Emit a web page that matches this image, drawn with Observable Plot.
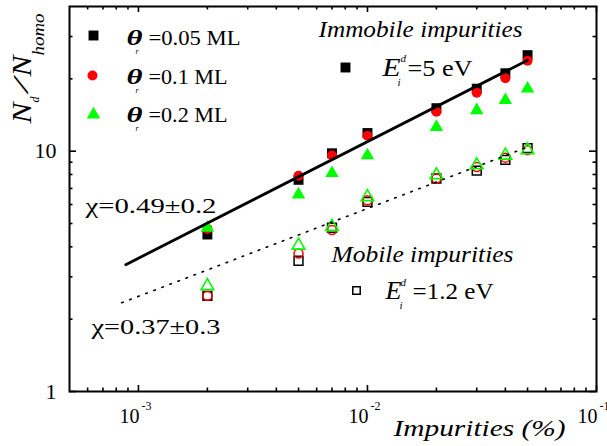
<!DOCTYPE html>
<html>
<head>
<meta charset="utf-8">
<script src="https://cdn.jsdelivr.net/npm/d3@7"></script>
<script src="https://cdn.jsdelivr.net/npm/@observablehq/plot@0.6"></script>
<style>
  html, body { margin: 0; padding: 0; background: #fff; }
  svg { display: block; }
</style>
</head>
<body>
<div id="chart"></div>
<script>
// ---------------- data ----------------
const impurities = [0.002, 0.005, 0.007, 0.01, 0.02, 0.03, 0.04, 0.05];
// immobile impurities (E = 5 eV), filled symbols
const immobile005 = [4.5, 7.6, 9.8, 11.9, 15.1, 18.2, 21.1, 25.1];
const immobile01  = [4.75, 7.9, 9.6, 11.6, 14.6, 17.5, 20.1, 23.8];
const immobile02  = [4.8, 6.6, 8.1, 9.6, 12.6, 14.8, 16.3, 18.2];
// mobile impurities (E = 1.2 eV), open symbols
const mobile005 = [2.5, 3.5, 4.8, 6.15, 7.7, 8.3, 9.2, 10.3];
const mobile01  = [2.5, 3.75, 4.7, 6.25, 7.7, 8.6, 9.4, 10.1];
const mobile02  = [2.75, 4.05, 4.85, 6.45, 7.95, 8.75, 9.6, 10.1];
// power-law fits
const fitImmobileX = [0.00088, 0.05];
const fitImmobileY = [3.37, 23.9];
const fitMobileX = [0.000845, 0.05];
const fitMobileY = [2.34, 10.4];
// ticks
const xTickMajor = [0.001, 0.01, 0.1];
const xTickMinor = [0.0006, 0.0007, 0.0008, 0.0009,
                    0.002, 0.003, 0.004, 0.005, 0.006, 0.007, 0.008, 0.009,
                    0.02, 0.03, 0.04, 0.05, 0.06, 0.07, 0.08, 0.09];
const yTickMajor = [1, 10];
const yTickMinor = [2, 3, 4, 5, 6, 7, 8, 9, 20, 30];
// texts
const legendLabels = ["θr=0.05 ML", "θr=0.1 ML", "θr=0.2 ML"];
const xLabel = "Impurities (%)";
const yLabel = "N_d/N_homo";

// ---------------- layout ----------------
const W = 607, H = 446;
const mL = 69, mR = 11, mT = 6, mB = 55;
const pw = W - mL - mR, ph = H - mT - mB;
const serif = "'Liberation Serif','Times New Roman',serif";
const GREEN = "#00ff00", RED = "#ff0000", BLACK = "#000000";

const rows = ys => impurities.map((x, i) => ({x, y: ys[i]}));
const fitRows = (xs, ys) => xs.map((x, i) => ({x, y: ys[i]}));
const at = (sx, sy) => ({frameAnchor: "top-left", dx: sx - mL, dy: sy - mT});
const label = (key, sx, sy, extra = {}) =>
  Plot.text([key], {text: d => d, ...at(sx, sy), textAnchor: "start", lineAnchor: "bottom",
                    fontSize: 22, fontFamily: serif, fill: BLACK, ...extra});

const plot = Plot.plot({
  width: W, height: H,
  marginLeft: mL, marginRight: mR, marginTop: mT, marginBottom: mB,
  style: {fontFamily: serif, fontSize: "22px", background: "#fff", color: "#000", overflow: "visible"},
  x: {type: "log", domain: [0.0005, 0.1], axis: null},
  y: {type: "log", domain: [1, 40], axis: null},
  marks: [
    // inward ticks on all four sides
    Plot.tickX(xTickMajor, {x: d => d, insetTop: ph - 6, stroke: BLACK, strokeWidth: 1.6}),
    Plot.tickX(xTickMinor, {x: d => d, insetTop: ph - 3.5, stroke: BLACK, strokeWidth: 1.6}),
    Plot.tickX(xTickMajor, {x: d => d, insetBottom: ph - 6, stroke: BLACK, strokeWidth: 1.6}),
    Plot.tickX(xTickMinor, {x: d => d, insetBottom: ph - 3.5, stroke: BLACK, strokeWidth: 1.6}),
    Plot.tickY(yTickMajor, {y: d => d, insetRight: pw - 7, stroke: BLACK, strokeWidth: 1.6}),
    Plot.tickY(yTickMinor, {y: d => d, insetRight: pw - 3.5, stroke: BLACK, strokeWidth: 1.6}),
    Plot.tickY(yTickMajor, {y: d => d, insetLeft: pw - 7, stroke: BLACK, strokeWidth: 1.6}),
    Plot.tickY(yTickMinor, {y: d => d, insetLeft: pw - 3.5, stroke: BLACK, strokeWidth: 1.6}),
    Plot.frame({stroke: BLACK, strokeWidth: 2}),

    // tick labels
    Plot.text(xTickMajor, {x: d => d, frameAnchor: "bottom", dy: 31, fontFamily: serif,
      text: d => "10^" + Math.round(Math.log10(d)), textAnchor: "start", lineAnchor: "bottom", fontSize: 22}),
    Plot.text(yTickMajor, {y: d => d, frameAnchor: "left", dx: -13, fontFamily: serif,
      text: d => String(d), textAnchor: "end", lineAnchor: "middle", fontSize: 22}),

    // mobile (open symbols)
    Plot.dot(rows(mobile005), {x: "x", y: "y", symbol: "square", r: 5.0, fill: "none", stroke: BLACK, strokeWidth: 1.5}),
    Plot.dot(rows(mobile01), {x: "x", y: "y", symbol: "circle", r: 4.5, fill: "none", stroke: RED, strokeWidth: 1.5}),
    Plot.dot(rows(mobile02), {x: "x", y: "y", symbol: "triangle", r: 4.7, fill: "none", stroke: GREEN, strokeWidth: 1.6}),
    // immobile (filled symbols)
    Plot.dot(rows(immobile005), {x: "x", y: "y", symbol: "square", r: 5.6, fill: BLACK}),
    Plot.dot(rows(immobile01), {x: "x", y: "y", symbol: "circle", r: 5, fill: RED}),
    Plot.dot(rows(immobile02), {x: "x", y: "y", symbol: "triangle", r: 5, fill: GREEN}),

    // fits
    Plot.line(fitRows(fitImmobileX, fitImmobileY), {x: "x", y: "y", stroke: BLACK, strokeWidth: 2.8}),
    Plot.line(fitRows(fitMobileX, fitMobileY), {x: "x", y: "y", stroke: BLACK, strokeWidth: 1.6, strokeDasharray: "1.6 7"}),

    // legend (top-left)
    Plot.dot([0], {...at(93, 35), symbol: "square", r: 5.6, fill: BLACK}),
    Plot.dot([0], {...at(92, 75), symbol: "circle", r: 5, fill: RED}),
    Plot.dot([0], {...at(93, 114), symbol: "triangle", r: 5, fill: GREEN}),
    label(legendLabels[0], 125, 44),
    label(legendLabels[1], 125, 83),
    label(legendLabels[2], 125, 121),

    // annotations
    label("Immobile impurities", 318, 36),
    Plot.dot([0], {...at(345, 67), symbol: "square", r: 5.6, fill: BLACK}),
    label("E_i^d=5 eV", 382, 75),
    label("Mobile impurities", 331, 261),
    Plot.dot([0], {...at(356, 290), symbol: "square", r: 4.2, fill: "none", stroke: BLACK, strokeWidth: 1.5}),
    label("E_i^d=1.2 eV", 385, 298),
    label("χ=0.49±0.2", 85, 212),
    label("χ=0.37±0.3", 91, 333),

    // axis labels
    label(xLabel, 393, 435),
    label(yLabel, 30, 123, {rotate: -90})
  ]
});

// ---------------- rich text (sub/superscripts) ----------------
const NS = "http://www.w3.org/2000/svg";
function rich(key, parts) {
  plot.querySelectorAll("text").forEach(el => {
    if (el.textContent !== key) return;
    const xa = el.getAttribute("x"), ya = el.getAttribute("y");
    const ox = xa && !/em$/.test(xa) ? +xa : 0;
    const oy = ya && !/em$/.test(ya) ? +ya : 0;
    el.textContent = "";
    el.setAttribute("text-anchor", "start");
    for (const p of parts) {
      const ts = document.createElementNS(NS, "tspan");
      ts.setAttribute("x", ox + p.x);
      ts.setAttribute("y", oy + (p.y || 0));
      ts.setAttribute("font-size", p.size);
      if (p.italic) ts.setAttribute("font-style", "italic");
      if (p.bold) ts.setAttribute("font-weight", "bold");
      if (p.len) { ts.setAttribute("textLength", p.len); ts.setAttribute("lengthAdjust", "spacingAndGlyphs"); }
      ts.textContent = p.t;
      el.appendChild(ts);
    }
  });
}

// tick labels 10^n
xTickMajor.forEach(v => {
  const n = Math.round(Math.log10(v));
  rich("10^" + n, [
    {t: "10", x: -19, size: 22, len: 20},
    {t: String(n), x: 3, y: -13, size: 12}
  ]);
});
// legend
const legendValues = ["=0.05 ML", "=0.1 ML", "=0.2 ML"];
const legendLens = [92, 79, 79];
legendLabels.forEach((k, i) => rich(k, [
  {t: "θ", x: 1, size: 21, bold: true, italic: true, len: 16},
  {t: "r", x: 10, y: 9, size: 8, italic: true},
  {t: legendValues[i], x: 23, size: 21, len: legendLens[i]}
]));
rich("Immobile impurities", [{t: "Immobile impurities", x: 0, size: 24, italic: true, len: 204}]);
rich("Mobile impurities", [{t: "Mobile impurities", x: 0, size: 24, italic: true, len: 182}]);
rich("E_i^d=5 eV", [
  {t: "E", x: 0, size: 25, italic: true, len: 18},
  {t: "d", x: 18, y: -14, size: 11, italic: true},
  {t: "i", x: 15, y: 10, size: 11, italic: true},
  {t: "=5 eV", x: 25, size: 23, len: 65}
]);
rich("E_i^d=1.2 eV", [
  {t: "E", x: 0, size: 25, italic: true, len: 16},
  {t: "d", x: 15, y: -13, size: 11, italic: true},
  {t: "i", x: 14, y: 10, size: 11, italic: true},
  {t: "=1.2 eV", x: 27, size: 23, len: 81}
]);
rich("χ=0.49±0.2", [{t: "χ=0.49±0.2", x: 0, size: 22, len: 131}]);
rich("χ=0.37±0.3", [{t: "χ=0.37±0.3", x: 0, size: 22, len: 129}]);
rich(xLabel, [{t: xLabel, x: 0, size: 24, italic: true, len: 172}]);
rich(yLabel, [
  {t: "N", x: 0, size: 28, italic: true, len: 21},
  {t: "d", x: 21, y: 8, size: 12, italic: true},
  {t: "/", x: 31, y: -3, size: 22, italic: true, len: 14},
  {t: "N", x: 47, size: 28, italic: true, len: 21},
  {t: "homo", x: 68, y: 13, size: 16, italic: true, len: 42}
]);

document.getElementById("chart").appendChild(plot);
</script>
</body>
</html>
